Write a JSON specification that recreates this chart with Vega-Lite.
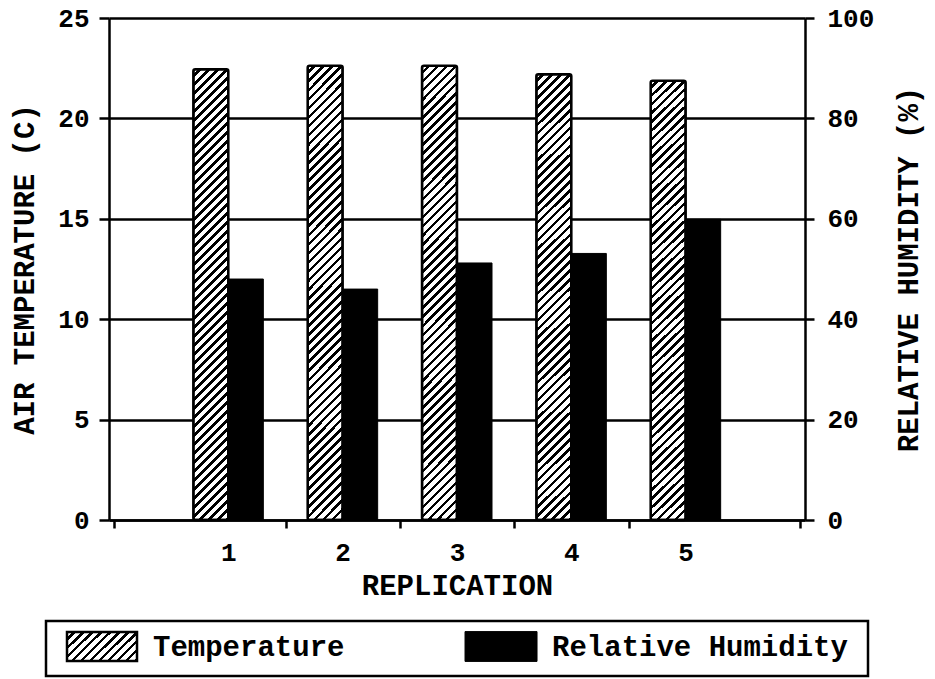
{
  "$schema": "https://vega.github.io/schema/vega-lite/v6.json",
  "background": "white",
  "padding": {"left": 10, "top": 5, "right": 5, "bottom": 0},
  "config": {
    "font": "Liberation Mono",
    "view": {"stroke": null},
    "axis": {
      "domainColor": "black", "domainWidth": 2.5, "tickColor": "black", "tickWidth": 2.5,
      "labelColor": "black", "titleColor": "black",
      "labelFont": "Liberation Mono", "labelFontWeight": "bold", "labelFontSize": 26,
      "titleFont": "Liberation Mono", "titleFontWeight": "bold", "titleFontSize": 29
    }
  },
  "datasets": {
    "main": [
      {"replication": 1, "series": "Temperature", "value": 22.45},
      {"replication": 2, "series": "Temperature", "value": 22.62},
      {"replication": 3, "series": "Temperature", "value": 22.62},
      {"replication": 4, "series": "Temperature", "value": 22.2},
      {"replication": 5, "series": "Temperature", "value": 21.88},
      {"replication": 1, "series": "Relative Humidity", "value": 48.0},
      {"replication": 2, "series": "Relative Humidity", "value": 46.0},
      {"replication": 3, "series": "Relative Humidity", "value": 51.2},
      {"replication": 4, "series": "Relative Humidity", "value": 53.1},
      {"replication": 5, "series": "Relative Humidity", "value": 59.9}
    ],
    "legend": [
      {"label": "Temperature"},
      {"label": "Relative Humidity"}
    ]
  },
  "spacing": 101,
  "center": true,
  "bounds": "flush",
  "vconcat": [
    {
      "width": 696,
      "height": 502,
      "data": {"name": "main"},
      "layer": [
        {
          "transform": [{"filter": "datum.series == 'Temperature'"}],
          "mark": {
            "type": "bar", "width": 35, "xOffset": -17.5, "stroke": "black", "strokeWidth": 2.5, "cornerRadius": 2,
            "fill": {
              "gradient": "linear", "x1": 0, "y1": 0, "x2": 0.0847, "y2": 1.091,
              "stops": [
                {"offset":0,"color":"#fff"},{"offset":0.0109,"color":"#fff"},{"offset":0.0109,"color":"#000"},{"offset":0.0182,"color":"#000"},
                {"offset":0.0182,"color":"#fff"},{"offset":0.0291,"color":"#fff"},{"offset":0.0291,"color":"#000"},{"offset":0.0364,"color":"#000"},
                {"offset":0.0364,"color":"#fff"},{"offset":0.0473,"color":"#fff"},{"offset":0.0473,"color":"#000"},{"offset":0.0545,"color":"#000"},
                {"offset":0.0545,"color":"#fff"},{"offset":0.0655,"color":"#fff"},{"offset":0.0655,"color":"#000"},{"offset":0.0727,"color":"#000"},
                {"offset":0.0727,"color":"#fff"},{"offset":0.0836,"color":"#fff"},{"offset":0.0836,"color":"#000"},{"offset":0.0909,"color":"#000"},
                {"offset":0.0909,"color":"#fff"},{"offset":0.1018,"color":"#fff"},{"offset":0.1018,"color":"#000"},{"offset":0.1091,"color":"#000"},
                {"offset":0.1091,"color":"#fff"},{"offset":0.12,"color":"#fff"},{"offset":0.12,"color":"#000"},{"offset":0.1273,"color":"#000"},
                {"offset":0.1273,"color":"#fff"},{"offset":0.1382,"color":"#fff"},{"offset":0.1382,"color":"#000"},{"offset":0.1455,"color":"#000"},
                {"offset":0.1455,"color":"#fff"},{"offset":0.1564,"color":"#fff"},{"offset":0.1564,"color":"#000"},{"offset":0.1636,"color":"#000"},
                {"offset":0.1636,"color":"#fff"},{"offset":0.1745,"color":"#fff"},{"offset":0.1745,"color":"#000"},{"offset":0.1818,"color":"#000"},
                {"offset":0.1818,"color":"#fff"},{"offset":0.1927,"color":"#fff"},{"offset":0.1927,"color":"#000"},{"offset":0.2,"color":"#000"},
                {"offset":0.2,"color":"#fff"},{"offset":0.2109,"color":"#fff"},{"offset":0.2109,"color":"#000"},{"offset":0.2182,"color":"#000"},
                {"offset":0.2182,"color":"#fff"},{"offset":0.2291,"color":"#fff"},{"offset":0.2291,"color":"#000"},{"offset":0.2364,"color":"#000"},
                {"offset":0.2364,"color":"#fff"},{"offset":0.2473,"color":"#fff"},{"offset":0.2473,"color":"#000"},{"offset":0.2545,"color":"#000"},
                {"offset":0.2545,"color":"#fff"},{"offset":0.2655,"color":"#fff"},{"offset":0.2655,"color":"#000"},{"offset":0.2727,"color":"#000"},
                {"offset":0.2727,"color":"#fff"},{"offset":0.2836,"color":"#fff"},{"offset":0.2836,"color":"#000"},{"offset":0.2909,"color":"#000"},
                {"offset":0.2909,"color":"#fff"},{"offset":0.3018,"color":"#fff"},{"offset":0.3018,"color":"#000"},{"offset":0.3091,"color":"#000"},
                {"offset":0.3091,"color":"#fff"},{"offset":0.32,"color":"#fff"},{"offset":0.32,"color":"#000"},{"offset":0.3273,"color":"#000"},
                {"offset":0.3273,"color":"#fff"},{"offset":0.3382,"color":"#fff"},{"offset":0.3382,"color":"#000"},{"offset":0.3455,"color":"#000"},
                {"offset":0.3455,"color":"#fff"},{"offset":0.3564,"color":"#fff"},{"offset":0.3564,"color":"#000"},{"offset":0.3636,"color":"#000"},
                {"offset":0.3636,"color":"#fff"},{"offset":0.3745,"color":"#fff"},{"offset":0.3745,"color":"#000"},{"offset":0.3818,"color":"#000"},
                {"offset":0.3818,"color":"#fff"},{"offset":0.3927,"color":"#fff"},{"offset":0.3927,"color":"#000"},{"offset":0.4,"color":"#000"},
                {"offset":0.4,"color":"#fff"},{"offset":0.4109,"color":"#fff"},{"offset":0.4109,"color":"#000"},{"offset":0.4182,"color":"#000"},
                {"offset":0.4182,"color":"#fff"},{"offset":0.4291,"color":"#fff"},{"offset":0.4291,"color":"#000"},{"offset":0.4364,"color":"#000"},
                {"offset":0.4364,"color":"#fff"},{"offset":0.4473,"color":"#fff"},{"offset":0.4473,"color":"#000"},{"offset":0.4545,"color":"#000"},
                {"offset":0.4545,"color":"#fff"},{"offset":0.4655,"color":"#fff"},{"offset":0.4655,"color":"#000"},{"offset":0.4727,"color":"#000"},
                {"offset":0.4727,"color":"#fff"},{"offset":0.4836,"color":"#fff"},{"offset":0.4836,"color":"#000"},{"offset":0.4909,"color":"#000"},
                {"offset":0.4909,"color":"#fff"},{"offset":0.5018,"color":"#fff"},{"offset":0.5018,"color":"#000"},{"offset":0.5091,"color":"#000"},
                {"offset":0.5091,"color":"#fff"},{"offset":0.52,"color":"#fff"},{"offset":0.52,"color":"#000"},{"offset":0.5273,"color":"#000"},
                {"offset":0.5273,"color":"#fff"},{"offset":0.5382,"color":"#fff"},{"offset":0.5382,"color":"#000"},{"offset":0.5455,"color":"#000"},
                {"offset":0.5455,"color":"#fff"},{"offset":0.5564,"color":"#fff"},{"offset":0.5564,"color":"#000"},{"offset":0.5636,"color":"#000"},
                {"offset":0.5636,"color":"#fff"},{"offset":0.5745,"color":"#fff"},{"offset":0.5745,"color":"#000"},{"offset":0.5818,"color":"#000"},
                {"offset":0.5818,"color":"#fff"},{"offset":0.5927,"color":"#fff"},{"offset":0.5927,"color":"#000"},{"offset":0.6,"color":"#000"},
                {"offset":0.6,"color":"#fff"},{"offset":0.6109,"color":"#fff"},{"offset":0.6109,"color":"#000"},{"offset":0.6182,"color":"#000"},
                {"offset":0.6182,"color":"#fff"},{"offset":0.6291,"color":"#fff"},{"offset":0.6291,"color":"#000"},{"offset":0.6364,"color":"#000"},
                {"offset":0.6364,"color":"#fff"},{"offset":0.6473,"color":"#fff"},{"offset":0.6473,"color":"#000"},{"offset":0.6545,"color":"#000"},
                {"offset":0.6545,"color":"#fff"},{"offset":0.6655,"color":"#fff"},{"offset":0.6655,"color":"#000"},{"offset":0.6727,"color":"#000"},
                {"offset":0.6727,"color":"#fff"},{"offset":0.6836,"color":"#fff"},{"offset":0.6836,"color":"#000"},{"offset":0.6909,"color":"#000"},
                {"offset":0.6909,"color":"#fff"},{"offset":0.7018,"color":"#fff"},{"offset":0.7018,"color":"#000"},{"offset":0.7091,"color":"#000"},
                {"offset":0.7091,"color":"#fff"},{"offset":0.72,"color":"#fff"},{"offset":0.72,"color":"#000"},{"offset":0.7273,"color":"#000"},
                {"offset":0.7273,"color":"#fff"},{"offset":0.7382,"color":"#fff"},{"offset":0.7382,"color":"#000"},{"offset":0.7455,"color":"#000"},
                {"offset":0.7455,"color":"#fff"},{"offset":0.7564,"color":"#fff"},{"offset":0.7564,"color":"#000"},{"offset":0.7636,"color":"#000"},
                {"offset":0.7636,"color":"#fff"},{"offset":0.7745,"color":"#fff"},{"offset":0.7745,"color":"#000"},{"offset":0.7818,"color":"#000"},
                {"offset":0.7818,"color":"#fff"},{"offset":0.7927,"color":"#fff"},{"offset":0.7927,"color":"#000"},{"offset":0.8,"color":"#000"},
                {"offset":0.8,"color":"#fff"},{"offset":0.8109,"color":"#fff"},{"offset":0.8109,"color":"#000"},{"offset":0.8182,"color":"#000"},
                {"offset":0.8182,"color":"#fff"},{"offset":0.8291,"color":"#fff"},{"offset":0.8291,"color":"#000"},{"offset":0.8364,"color":"#000"},
                {"offset":0.8364,"color":"#fff"},{"offset":0.8473,"color":"#fff"},{"offset":0.8473,"color":"#000"},{"offset":0.8545,"color":"#000"},
                {"offset":0.8545,"color":"#fff"},{"offset":0.8655,"color":"#fff"},{"offset":0.8655,"color":"#000"},{"offset":0.8727,"color":"#000"},
                {"offset":0.8727,"color":"#fff"},{"offset":0.8836,"color":"#fff"},{"offset":0.8836,"color":"#000"},{"offset":0.8909,"color":"#000"},
                {"offset":0.8909,"color":"#fff"},{"offset":0.9018,"color":"#fff"},{"offset":0.9018,"color":"#000"},{"offset":0.9091,"color":"#000"},
                {"offset":0.9091,"color":"#fff"},{"offset":0.92,"color":"#fff"},{"offset":0.92,"color":"#000"},{"offset":0.9273,"color":"#000"},
                {"offset":0.9273,"color":"#fff"},{"offset":0.9382,"color":"#fff"},{"offset":0.9382,"color":"#000"},{"offset":0.9455,"color":"#000"},
                {"offset":0.9455,"color":"#fff"},{"offset":0.9564,"color":"#fff"},{"offset":0.9564,"color":"#000"},{"offset":0.9636,"color":"#000"},
                {"offset":0.9636,"color":"#fff"},{"offset":0.9745,"color":"#fff"},{"offset":0.9745,"color":"#000"},{"offset":0.9818,"color":"#000"},
                {"offset":0.9818,"color":"#fff"},{"offset":0.9927,"color":"#fff"},{"offset":0.9927,"color":"#000"},{"offset":1,"color":"#000"}
              ]
            }
          },
          "encoding": {
            "x": {
              "field": "replication", "type": "quantitative",
              "scale": {"domain": [0, 6], "nice": false, "zero": false},
              "axis": {
                "title": "REPLICATION",
                "values": [0, 1, 1.5, 2, 2.5, 3, 3.5, 4, 4.5, 5, 6],
                "labelExpr": "(datum.value % 1 == 0 && datum.value > 0 && datum.value < 6) ? format(datum.value, 'd') : ''",
                "tickOpacity": {"condition": {"test": "datum.value % 1 == 0 && datum.value > 0 && datum.value < 6", "value": 0}, "value": 1},
                "grid": false, "tickSize": 8, "labelPadding": 11, "titlePadding": 6,
                "labelOverlap": false, "labelFlush": false
              }
            },
            "y": {
              "field": "value", "type": "quantitative",
              "scale": {"domain": [0, 25], "nice": false},
              "axis": {
                "title": "AIR TEMPERATURE (C)",
                "values": [0, 5, 10, 15, 20, 25],
                "grid": true, "gridColor": "black", "gridWidth": 2.5, "gridOpacity": 1,
                "tickSize": 10, "labelPadding": 10, "titlePadding": 18
              }
            }
          }
        },
        {
          "transform": [{"filter": "datum.series == 'Relative Humidity'"}],
          "mark": {"type": "bar", "width": 35, "xOffset": 17.5, "fill": "black", "stroke": "black", "strokeWidth": 1},
          "encoding": {
            "x": {"field": "replication", "type": "quantitative"},
            "y": {
              "field": "value", "type": "quantitative",
              "scale": {"domain": [0, 100], "nice": false},
              "axis": {
                "orient": "right",
                "title": "RELATIVE HUMIDITY (%)",
                "titleAngle": 270, "titleBaseline": "top",
                "values": [0, 20, 40, 60, 80, 100],
                "grid": false, "tickSize": 9, "labelPadding": 13, "titlePadding": 21
              }
            }
          }
        }
      ],
      "resolve": {"scale": {"y": "independent"}}
    },
    {
      "width": 822,
      "height": 55,
      "view": {"stroke": "black", "strokeWidth": 2.5},
      "data": {"name": "legend"},
      "layer": [
        {
          "transform": [{"filter": "datum.label == 'Temperature'"}],
          "mark": {
            "type": "point", "shape": "M-1,-0.414H1V0.414H-1Z", "size": 4900, "filled": true, "opacity": 1,
            "stroke": "black", "strokeWidth": 2.5, "yOffset": -2,
            "fill": {
              "gradient": "linear", "x1": 0, "y1": 0, "x2": 1.207, "y2": 0.5,
              "stops": [
                {"offset":0,"color":"#fff"},{"offset":0.0545,"color":"#fff"},{"offset":0.0545,"color":"#000"},{"offset":0.0909,"color":"#000"},
                {"offset":0.0909,"color":"#fff"},{"offset":0.1455,"color":"#fff"},{"offset":0.1455,"color":"#000"},{"offset":0.1818,"color":"#000"},
                {"offset":0.1818,"color":"#fff"},{"offset":0.2364,"color":"#fff"},{"offset":0.2364,"color":"#000"},{"offset":0.2727,"color":"#000"},
                {"offset":0.2727,"color":"#fff"},{"offset":0.3273,"color":"#fff"},{"offset":0.3273,"color":"#000"},{"offset":0.3636,"color":"#000"},
                {"offset":0.3636,"color":"#fff"},{"offset":0.4182,"color":"#fff"},{"offset":0.4182,"color":"#000"},{"offset":0.4545,"color":"#000"},
                {"offset":0.4545,"color":"#fff"},{"offset":0.5091,"color":"#fff"},{"offset":0.5091,"color":"#000"},{"offset":0.5455,"color":"#000"},
                {"offset":0.5455,"color":"#fff"},{"offset":0.6,"color":"#fff"},{"offset":0.6,"color":"#000"},{"offset":0.6364,"color":"#000"},
                {"offset":0.6364,"color":"#fff"},{"offset":0.6909,"color":"#fff"},{"offset":0.6909,"color":"#000"},{"offset":0.7273,"color":"#000"},
                {"offset":0.7273,"color":"#fff"},{"offset":0.7818,"color":"#fff"},{"offset":0.7818,"color":"#000"},{"offset":0.8182,"color":"#000"},
                {"offset":0.8182,"color":"#fff"},{"offset":0.8727,"color":"#fff"},{"offset":0.8727,"color":"#000"},{"offset":0.9091,"color":"#000"},
                {"offset":0.9091,"color":"#fff"},{"offset":0.9636,"color":"#fff"},{"offset":0.9636,"color":"#000"},{"offset":1,"color":"#000"}
              ]
            }
          },
          "encoding": {
            "x": {
              "field": "label", "type": "nominal",
              "scale": {"type": "point", "domain": ["Temperature", "Relative Humidity"], "padding": 0.53, "align": 0.1324},
              "axis": null
            }
          }
        },
        {
          "transform": [{"filter": "datum.label == 'Relative Humidity'"}],
          "mark": {
            "type": "point", "shape": "M-1,-0.414H1V0.414H-1Z", "size": 5184, "filled": true, "opacity": 1,
            "fill": "black", "stroke": "black", "strokeWidth": 1, "yOffset": -2
          },
          "encoding": {
            "x": {"field": "label", "type": "nominal", "axis": null}
          }
        },
        {
          "mark": {
            "type": "text", "align": "left", "baseline": "middle", "dx": 51, "dy": -2,
            "font": "Liberation Mono", "fontWeight": "bold", "fontSize": 29, "color": "black"
          },
          "encoding": {
            "x": {"field": "label", "type": "nominal", "axis": null},
            "text": {"field": "label"}
          }
        }
      ]
    }
  ]
}
